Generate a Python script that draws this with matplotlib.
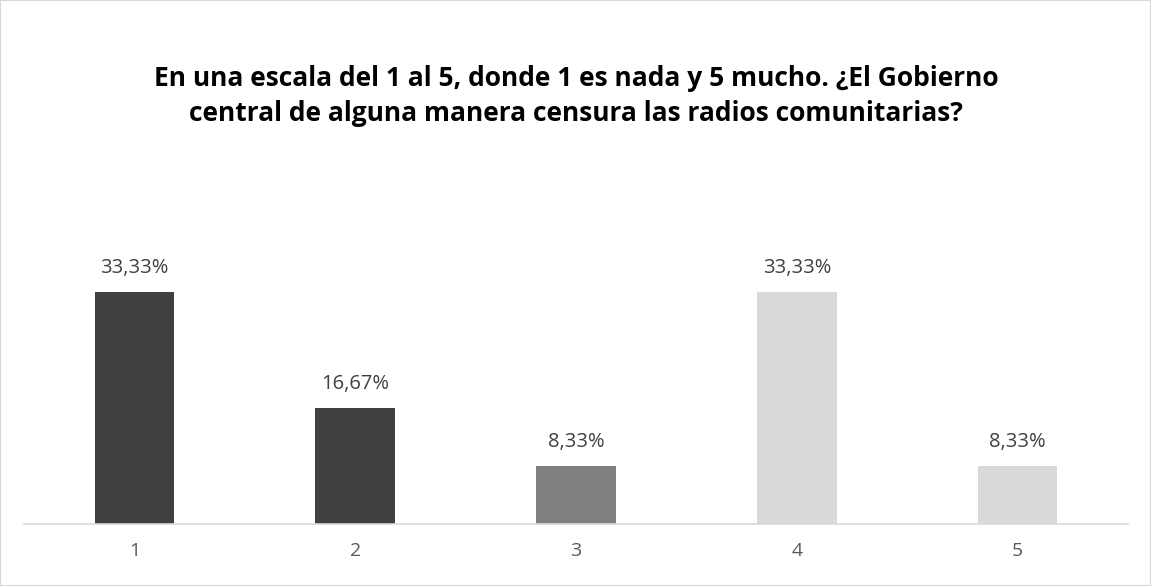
import matplotlib.pyplot as plt
from matplotlib.patches import Rectangle

categories = ["1", "2", "3", "4", "5"]
values = [33.33, 16.67, 8.33, 33.33, 8.33]
labels = ["33,33%", "16,67%", "8,33%", "33,33%", "8,33%"]
colors = ["#404040", "#404040", "#7f7f7f", "#d9d9d9", "#d9d9d9"]

title = ("En una escala del 1 al 5, donde 1 es nada y 5 mucho. ¿El Gobierno\n"
         "central de alguna manera censura las radios comunitarias?")

plt.rcParams["font.family"] = ["Open Sans", "DejaVu Sans"]

fig = plt.figure(figsize=(11.51, 5.86), dpi=100)
ax = fig.add_axes([24 / 1151, 62 / 586, 1104 / 1151, 278 / 586])

x = list(range(1, len(categories) + 1))
bars = ax.bar(x, values, width=0.36, color=colors)
for b, lab in zip(bars, labels):
    ax.annotate(lab, (b.get_x() + b.get_width() / 2, b.get_height()),
                xytext=(0, 14), textcoords="offset pixels",
                ha="center", va="bottom", fontsize=14.5, color="#404040")

ax.set_xlim(0.5, 5.5)
ax.set_ylim(0, 40)
ax.set_xticks(x)
ax.set_xticklabels(categories, fontsize=14, color="#595959")
ax.tick_params(axis="x", length=0, pad=13)
ax.set_yticks([])
for s in ["left", "right", "top"]:
    ax.spines[s].set_visible(False)
ax.spines["bottom"].set_color("#d9d9d9")
ax.spines["bottom"].set_linewidth(1.2)

fig.text(576 / 1151, 1 - 96 / 586, title, ha="center", va="center",
         fontsize=19, fontweight="bold", color="black", linespacing=1.4)

fig.patches.append(Rectangle((0, 0), 1, 1, transform=fig.transFigure,
                             fill=False, edgecolor="#d9d9d9", linewidth=1.5))

fig.savefig("out.png", dpi=100)
